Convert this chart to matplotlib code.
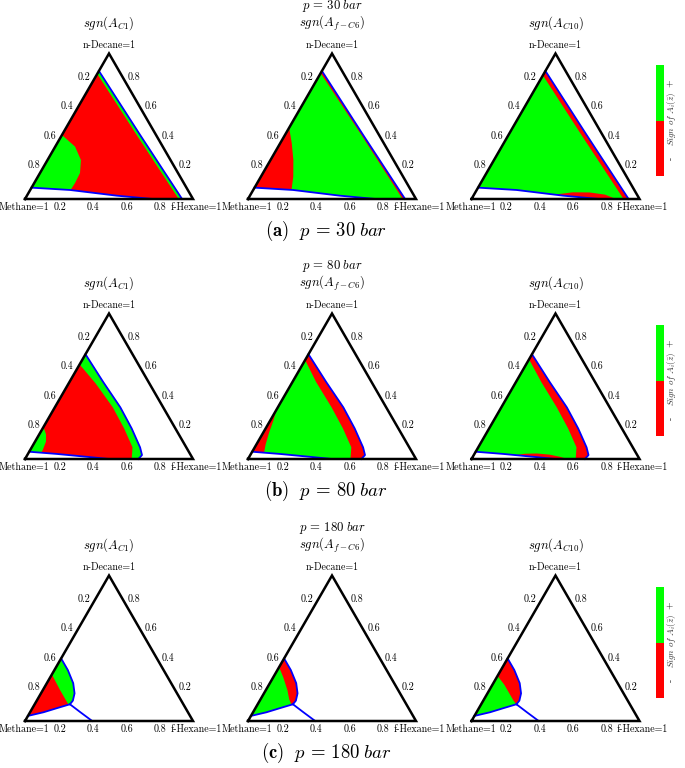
import numpy as np
import matplotlib
matplotlib.use("Agg")
import matplotlib.pyplot as plt
from matplotlib.patches import Polygon
from matplotlib.colors import ListedColormap, Normalize
from matplotlib.colorbar import ColorbarBase

plt.rcParams['mathtext.fontset'] = 'cm'
plt.rcParams['font.family'] = 'cmr10'
plt.rcParams['axes.formatter.use_mathtext'] = True

RED = '#ff0000'
GREEN = '#00ff00'
BLUE = '#0000ff'
H = np.sqrt(3) / 2

# all curves are (f-Hexane, n-Decane) mole fractions, Methane = rest

# p = 30 bar
upper_30 = [(0.0, 0.88), (0.46, 0.445), (0.935, 0.0)]
lower_30 = [(0.0, 0.078), (0.237, 0.062), (0.534, 0.023), (0.76, 0.0)]
c1_strip_30 = [(0.0, 0.86), (0.45, 0.435), (0.915, 0.0)]
c1_blob_30 = [(0.0, 0.44), (0.118, 0.36), (0.199, 0.268), (0.238, 0.179),
              (0.243, 0.11), (0.239, 0.04), (0.235, 0.0)]
fc6_strip_30 = [(0.0, 0.865), (0.455, 0.44), (0.92, 0.0)]
fc6_blob_30 = [(0.0, 0.49), (0.069, 0.383), (0.136, 0.268), (0.193, 0.153),
               (0.226, 0.067), (0.235, 0.0)]
c10_strip_30 = [(0.0, 0.85), (0.445, 0.43), (0.905, 0.0)]
c10_lens_30 = [(0.47, 0.0), (0.48, 0.03), (0.58, 0.046), (0.68, 0.045),
               (0.78, 0.03), (0.86, 0.0)]

# p = 80 bar
upper_80 = [(0.0, 0.72), (0.2, 0.53), (0.39, 0.355), (0.53, 0.21),
            (0.645, 0.08), (0.683, 0.027), (0.675, 0.0)]
lower_80 = [(0.0, 0.05), (0.17, 0.035), (0.38, 0.013), (0.5, 0.0)]
c1_strip_80 = [(0.0, 0.65), (0.16, 0.52), (0.345, 0.355), (0.485, 0.21),
               (0.6, 0.08), (0.635, 0.0)]
c1_blob_80 = [(0.0, 0.22), (0.04, 0.17), (0.065, 0.12), (0.075, 0.06), (0.075, 0.0)]
fc6_strip_80 = [(0.0, 0.68), (0.14, 0.53), (0.32, 0.355), (0.46, 0.21),
                (0.575, 0.08), (0.61, 0.0)]
fc6_blob_80 = [(0.0, 0.34), (0.02, 0.26), (0.035, 0.18), (0.055, 0.1),
               (0.075, 0.04), (0.08, 0.0)]
c10_strip_80 = [(0.0, 0.685), (0.15, 0.53), (0.33, 0.355), (0.47, 0.21),
                (0.585, 0.08), (0.62, 0.0)]
c10_lens_80 = [(0.23, 0.0), (0.24, 0.025), (0.3, 0.036), (0.37, 0.038),
               (0.45, 0.03), (0.52, 0.015), (0.57, 0.0)]

# p = 180 bar
upper_180 = [(0.0, 0.43), (0.08, 0.35), (0.157, 0.26), (0.20, 0.19),
             (0.215, 0.14), (0.21, 0.115)]
lower_180 = [(0.0, 0.035), (0.08, 0.06), (0.15, 0.09), (0.21, 0.115)]
tail_180 = [(0.21, 0.115), (0.30, 0.06), (0.40, 0.0)]
c1_split_180 = [(0.0, 0.32), (0.1, 0.215), (0.2, 0.115)]
fc6_split_180 = [(0.0, 0.37), (0.06, 0.30), (0.13, 0.21), (0.17, 0.15), (0.2, 0.115)]
c10_split_180 = [(0.0, 0.31), (0.07, 0.25), (0.13, 0.19), (0.18, 0.14), (0.21, 0.115)]

ticks = [0.2, 0.4, 0.6, 0.8]
pressures = ['30', '80', '180']
letters = ['a', 'b', 'c']
titles = [r'$sgn(A_{C1})$', r'$sgn(A_{f-C6})$', r'$sgn(A_{C10})$']

TOP = [(1.0, 0.0), (0.0, 1.0)]
CORNER = [(0.0, 0.0)]

rows = [
    dict(base=199, upper=upper_30, lower=lower_30, tail=None,
         panels=[(RED, [(c1_strip_30 + TOP, GREEN), (c1_blob_30 + CORNER, GREEN)]),
                 (GREEN, [(fc6_strip_30 + TOP, RED), (fc6_blob_30 + CORNER, RED)]),
                 (GREEN, [(c10_strip_30 + TOP, RED), (c10_lens_30, RED)])]),
    dict(base=459, upper=upper_80, lower=lower_80, tail=None,
         panels=[(RED, [(c1_strip_80 + TOP, GREEN), (c1_blob_80 + CORNER, GREEN)]),
                 (GREEN, [(fc6_strip_80 + TOP, RED), (fc6_blob_80 + CORNER, RED)]),
                 (GREEN, [(c10_strip_80 + TOP, RED), (c10_lens_80, RED)])]),
    dict(base=721, upper=upper_180, lower=lower_180, tail=tail_180,
         panels=[(RED, [(c1_split_180 + TOP, GREEN)]),
                 (GREEN, [(fc6_split_180 + TOP, RED)]),
                 (GREEN, [(c10_split_180 + TOP, RED)])]),
]

W, HT = 685, 768
S = 168.0
lefts = [25, 248, 471.5]


def to_xy(pts):
    pts = np.asarray(pts, float)
    hx, d = pts[:, 0], pts[:, 1]
    return np.column_stack([hx + d / 2, d * H])


def ftext(px, py, s, **kw):
    fig.text(px / W, 1 - py / HT, s, **kw)


fig = plt.figure(figsize=(W / 100, HT / 100), dpi=100)

for r, row in enumerate(rows):
    B = row['base']
    for i, (dom, patches) in enumerate(row['panels']):
        L = lefts[i]
        ax = fig.add_axes([(L - 0.2 * S) / W, 1 - (B + 0.15 * S) / HT,
                           1.4 * S / W, 1.15 * S / HT])
        ax.set_xlim(-0.2, 1.2)
        ax.set_ylim(-0.15, 1.0)
        ax.set_axis_off()
        ax.patch.set_visible(False)

        env = Polygon(to_xy(row['upper'] + row['lower'][::-1]), closed=True,
                      fc=dom, ec='none', zorder=1)
        ax.add_patch(env)
        for pts, col in patches:
            p = Polygon(to_xy(pts), closed=True, fc=col, ec='none', zorder=2)
            ax.add_patch(p)
            p.set_clip_path(env)

        for cur in (row['upper'], row['lower'], row['tail']):
            if cur is None:
                continue
            xy = to_xy(cur)
            ax.plot(xy[:, 0], xy[:, 1], color=BLUE, lw=1.3, zorder=3)

        tri = to_xy([(0, 0), (1, 0), (0, 1), (0, 0)])
        ax.plot(tri[:, 0], tri[:, 1], color='black', lw=1.8, zorder=4,
                solid_joinstyle='miter', clip_on=False)

        fs = 7.2
        for t in ticks:
            # left edge: Methane fraction
            x, y = to_xy([(0.0, 1 - t)])[0]
            ax.annotate(f'{t:.1f}', (x, y), xytext=(-2, 5), textcoords='offset pixels',
                        ha='right', va='center', fontsize=fs)
            # right edge: n-Decane fraction
            x, y = to_xy([(1 - t, t)])[0]
            ax.annotate(f'{t:.1f}', (x, y), xytext=(2, 5), textcoords='offset pixels',
                        ha='left', va='center', fontsize=fs)
            # bottom edge: f-Hexane fraction
            x, y = to_xy([(t, 0.0)])[0]
            ax.annotate(f'{t:.1f}', (x, y), xytext=(1, -8), textcoords='offset pixels',
                        ha='center', va='center', fontsize=fs)
        ax.annotate('Methane=1', (0, 0), xytext=(-1, -8), textcoords='offset pixels',
                    ha='center', va='center', fontsize=fs)
        ax.annotate('f-Hexane=1', (1, 0), xytext=(3, -8), textcoords='offset pixels',
                    ha='center', va='center', fontsize=fs)
        ax.annotate('n-Decane=1', (0.5, H), xytext=(0, 8), textcoords='offset pixels',
                    ha='center', va='center', fontsize=fs)

        ftext(L + 84, B - 175.5, titles[i], ha='center', va='center', fontsize=9.2)
        if i == 1:
            ftext(L + 84, B - 192.5, r'$p\,=\,%s\;bar$' % pressures[r],
                  ha='center', va='center', fontsize=9.2)

    ftext(326, B + 32, r'$\mathbf{(%s)}\ \ p\,=\,%s\;bar$' % (letters[r], pressures[r]),
          ha='center', va='center', fontsize=13.5)

    # sign colourbar
    cax = fig.add_axes([656 / W, 1 - (B - 23) / HT, 8 / W, 111 / HT])
    cb = ColorbarBase(cax, cmap=ListedColormap([RED, GREEN]), norm=Normalize(-1, 1),
                      orientation='vertical')
    cb.outline.set_visible(False)
    cax.set_yticks([])
    ftext(671, B - 116, '+', ha='center', va='center', fontsize=7, rotation=90)
    ftext(671, B - 41, '-', ha='center', va='center', fontsize=7, rotation=90)
    ftext(672, B - 80, r'$Sign\ of\ A_i(\bar{z})$', ha='center', va='center',
          fontsize=6.5, rotation=90, color='#333333')

fig.savefig('out.png', dpi=100)
